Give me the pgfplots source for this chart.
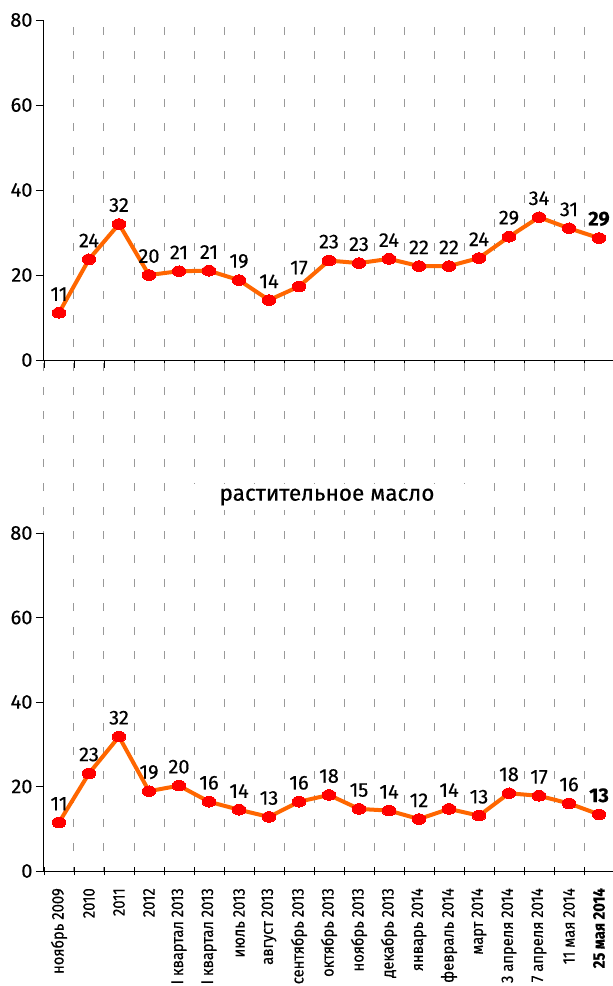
\documentclass[border=0pt]{standalone}
\usepackage{fontspec}
\setmainfont{Fira Sans}[FakeBold=0.4]
\newfontfamily\condfont{Fira Sans}[FakeStretch=0.88, FakeBold=0.4]
\usepackage{pgfplots}
\pgfplotsset{compat=1.18}
\definecolor{orangeline}{HTML}{FF6600}
\definecolor{gridgray}{HTML}{999999}
\begin{document}
\begin{tikzpicture}[x=1pt,y=1pt]
\pgfplotsset{
  mybase/.style={scale only axis, width=570pt, xmin=-0.5, xmax=18.5, ymin=0, ymax=80,
    axis x line=bottom, axis y line=left, axis line style={-, black, line width=1pt},
    ytick={0,20,40,60,80}, tick style={black, line width=0.8pt},
    tick align=outside, major tick length=8pt,
    y tick label style={font=\fontsize{20}{22}\selectfont},
    /pgf/number format/assume math mode=true,
    clip=false,
    nodes near coords, point meta=explicit symbolic,
    nodes near coords style={font=\fontsize{20}{22}\selectfont, black, anchor=south, inner sep=1pt, yshift=11pt},
  },
  myline/.style={line width=4pt, color=orangeline, mark=*, mark size=5.3pt,
    mark options={fill=red, draw=red, xscale=1.3, line width=0pt}},
}
% top chart
\begin{axis}[mybase, at={(44pt,-360pt)}, anchor=south west, height=340pt,
  xtick={-0.5,0.5,1.5,2.5,3.5,4.5,5.5,6.5,7.5,8.5,9.5,10.5,11.5,12.5,13.5,14.5,15.5,16.5,17.5,18.5},
  xticklabels={}]
\draw[gridgray, line width=1pt, dash pattern=on 8pt off 16pt, dash phase=21pt] (axis cs:-0.5,0) -- (axis cs:-0.5,-120.2);
\pgfplotsinvokeforeach{0.5,1.5,2.5,3.5,4.5,5.5,6.5,7.5,8.5,9.5,10.5,11.5,12.5,13.5,14.5,15.5,16.5,17.5,18.5}{
  \draw[gridgray, line width=1pt, dash pattern=on 8pt off 16pt, dash phase=17pt] (axis cs:#1,80) -- (axis cs:#1,-120.2);
}
\addplot[myline] coordinates {
 (0,11.1) [11] (1,23.7) [24] (2,32) [32] (3,20) [20] (4,20.9) [21] (5,21) [21]
 (6,18.8) [19] (7,14.1) [14] (8,17.3) [17] (9,23.4) [23] (10,22.8) [23] (11,23.8) [24]
 (12,22.1) [22] (13,22.1) [22] (14,24) [24] (15,29) [29] (16,33.6) [34] (17,31) [31]
 (18,28.7) [\textbf{29}]
};
\end{axis}
\node[fill=white, inner xsep=52pt, inner ysep=5pt, font=\fontsize{22.5}{26}\selectfont] at (327pt,-497pt) {растительное масло};
% bottom chart
\begin{axis}[mybase, at={(44pt,-871pt)}, anchor=south west, height=338pt,
  xtick={0,1,2,3,4,5,6,7,8,9,10,11,12,13,14,15,16,17,18},
  major x tick style={draw=none},
  minor xtick={-0.5,0.5,1.5,2.5,3.5,4.5,5.5,6.5,7.5,8.5,9.5,10.5,11.5,12.5,13.5,14.5,15.5,16.5,17.5,18.5},
  minor tick length=8pt, minor x tick style={black, line width=0.8pt, yshift=4pt},
  xticklabels={ноябрь 2009, 2010, 2011, 2012, I квартал 2013, I квартал 2013, июль 2013, август 2013, сентябрь 2013, октябрь 2013, ноябрь 2013, декабрь 2013, январь 2014, февраль 2014, март 2014, 3 апреля 2014, 7 апреля 2014, 11 мая 2014, \textbf{25 мая 2014}},
  x tick label style={rotate=90, anchor=east, inner sep=0pt, font=\condfont\fontsize{16.8}{19}\selectfont},
  xticklabel shift=9pt]
\addplot[myline] coordinates {
 (0,11.5) [11] (1,23.1) [23] (2,31.8) [32] (3,18.9) [19] (4,20.2) [20] (5,16.4) [16]
 (6,14.5) [14] (7,12.8) [13] (8,16.4) [16] (9,18) [18] (10,14.7) [15] (11,14.3) [14]
 (12,12.3) [12] (13,14.7) [14] (14,13.1) [13] (15,18.4) [18] (16,17.8) [17] (17,16) [16]
 (18,13.4) [\textbf{13}]
};
\end{axis}
\pgfresetboundingbox
\path[use as bounding box] (0pt,0pt) rectangle (613pt,-986pt);
\end{tikzpicture}
\end{document}
